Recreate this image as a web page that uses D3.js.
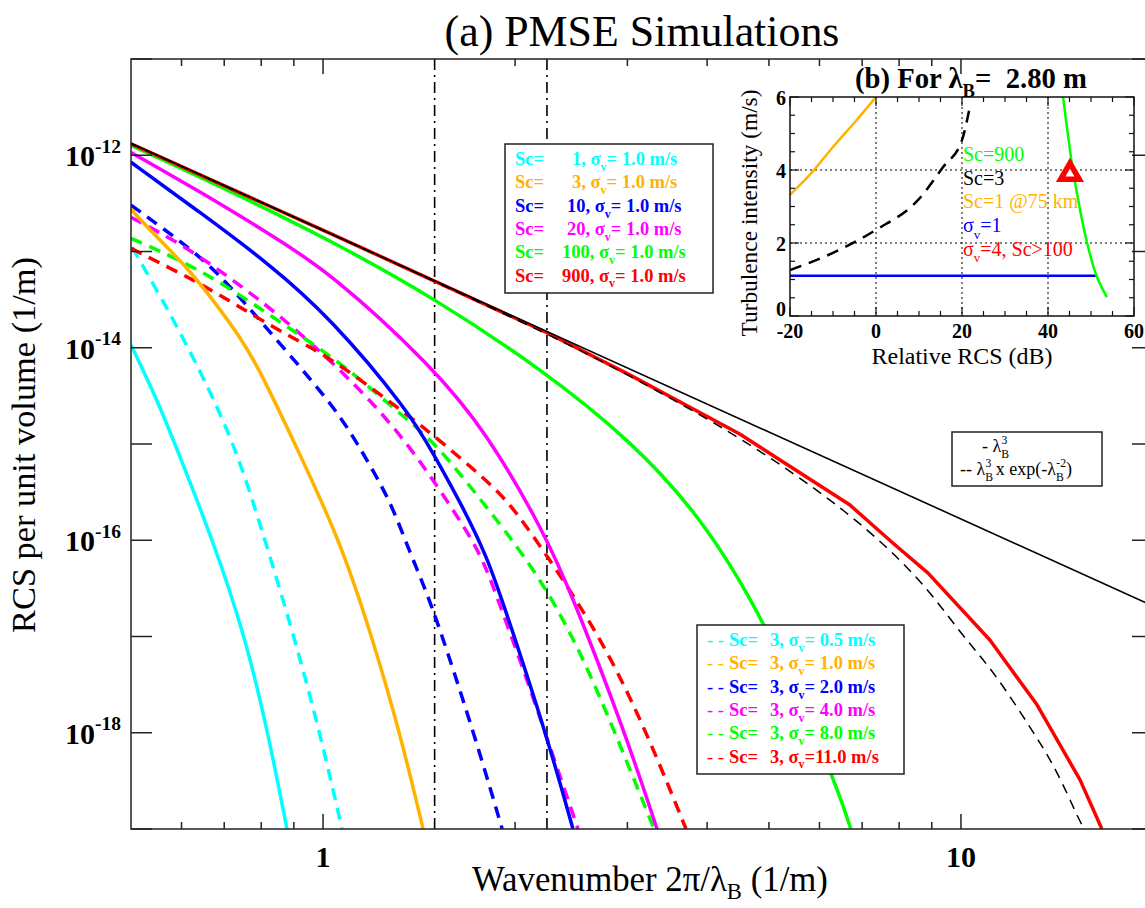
<!DOCTYPE html>
<head>
	<meta charset="utf-8">
	<title>PMSE Simulations</title>
	<script src="https://cdn.jsdelivr.net/npm/d3@7"></script>
	<style>
		body { margin: 0; background: #fff; }
		svg text { font-family: "Liberation Serif", "Times New Roman", serif; white-space: pre; }
	</style>
</head>

<body>
	<div id="chart"></div>

  <script>
	// wavenumber 2pi/lambda_B (1/m) vs RCS per unit volume (1/m)
	var sc1   = [[0.5,1.07e-14],[0.549,2.9e-15],[0.586,1.0e-15],[0.672,1.0e-16],[0.755,1.0e-17],[0.820,1.0e-18],[0.878,1.0e-19]];
	var sc3   = [[0.5,2.75e-13],[0.541,1.55e-13],[0.612,6.9e-14],[0.682,2.77e-14],[0.741,1.29e-14],[0.791,6.37e-15],[0.904,1.0e-15],[1.063,1.0e-16],[1.193,1.0e-17],[1.320,1.0e-18],[1.435,1.0e-19]];
	var sc10  = [[0.5,8.46e-13],[0.641,2.56e-13],[0.817,7.74e-14],[1.026,2.08e-14],[1.369,2.1e-15],[1.487,8.05e-16],[1.657,2.21e-16],[1.807,6.7e-17],[1.909,2.4e-17],[2.236,1.0e-18],[2.465,1.0e-19]];
	var sc20  = [[0.5,1.07e-12],[0.641,4.2e-13],[0.817,1.58e-13],[1.026,6.1e-14],[1.487,6.3e-15],[1.807,1.3e-15],[2.212,1.28e-16],[2.465,2.57e-17],[2.975,1.0e-18],[3.339,1.0e-19]];
	var sc100 = [[0.5,1.27e-12],[0.7,4.55e-13],[1.026,1.31e-13],[1.487,3.35e-14],[2.212,5.85e-15],[3.028,1.1e-15],[3.898,1.83e-16],[4.93,1.48e-17],[6.30,3.65e-19],[6.72,1.0e-19]];
	var sc900 = [[0.5,1.315e-12],[1.026,1.546e-13],[2.236,1.45e-14],[3.03,5.19e-15],[4.5,1.27e-15],[6.70,2.32e-16],[7.82,9.35e-17],[8.88,4.56e-17],[11.10,9.2e-18],[13.16,1.95e-18],[15.37,3.24e-19],[16.63,1.0e-19]];

	var sig05  = [[0.502,1.11e-13],[0.566,2.77e-14],[0.630,7.4e-15],[0.728,1.0e-15],[0.811,1.0e-16],[0.901,1.0e-17],[0.989,1.0e-18],[1.071,1.0e-19]];
	var sig20  = [[0.5,3.03e-13],[0.626,1.03e-13],[0.707,4.8e-14],[0.866,1.01e-14],[1.052,2.25e-15],[1.155,8.05e-16],[1.274,2.61e-16],[1.369,7.36e-17],[1.456,2.83e-17],[1.564,7.24e-18],[1.737,8.4e-19],[1.909,1.0e-19]];
	var sig40  = [[0.5,2.27e-13],[0.612,1.11e-13],[0.722,5.04e-14],[0.847,2.29e-14],[1.026,7.43e-15],[1.198,2.66e-15],[1.369,9.29e-16],[1.525,3.32e-16],[1.718,1.0e-16],[1.807,4.9e-17],[1.874,2.57e-17],[2.036,5.7e-18],[2.228,1.02e-18],[2.51,1.0e-19]];
	var sig80  = [[0.5,1.37e-13],[0.612,7.57e-14],[0.722,3.97e-14],[0.847,1.94e-14],[1.026,8.37e-15],[1.172,4.09e-15],[1.335,1.95e-15],[1.509,9.75e-16],[1.718,3.32e-16],[1.943,1.19e-16],[2.212,3.6e-17],[2.528,7.24e-18],[2.901,8.4e-19],[3.303,1.0e-19]];
	var sig110 = [[0.5,1.08e-13],[0.555,7.57e-14],[0.641,4.69e-14],[0.741,2.64e-14],[0.866,1.42e-14],[1.026,7.98e-15],[1.306,2.42e-15],[1.456,1.39e-15],[1.657,6.81e-16],[1.874,3.32e-16],[2.014,1.91e-16],[2.212,7.9e-17],[2.438,3.04e-17],[2.818,6.43e-18],[3.254,8.4e-19],[3.707,1.0e-19]];

	var lambda3    = [[0.5,1.33e-12],[20,2.08e-17]];
	var lambda3exp = [[0.5,1.315e-12],[1.026,1.546e-13],[2.236,1.44e-14],[3.03,5.1e-15],[4.5,1.21e-15],[6.70,1.96e-16],[8.69,3.86e-17],[9.96,1.09e-17],[11.22,4.49e-18],[12.92,1.07e-18],[14.14,4.11e-19],[15.37,1.16e-19],[15.64,1.0e-19]];

	var braggK = [1.496, 2.244];   // dash-dot verticals

	var scLabels    = ["1", "3", "10", "20", "100", "900"];
	var sigmaLabels = ["0.5", "1.0", "2.0", "4.0", "8.0", "11.0"];

	var xMajor = [1, 10];
	var xMinor = [0.6, 0.7, 0.8, 0.9, 2, 3, 4, 5, 6, 7, 8, 9, 20];
	var yDecades = [-19, -18, -17, -16, -15, -14, -13, -12, -11];
	var yLabelled = [-12, -14, -16, -18];

	// inset (b): relative RCS (dB) vs turbulence intensity (m/s)
	var inSc1    = [[-20,3.32],[-15,3.92],[-10,4.63],[-5,5.3],[0,6.0]];
	var inSc3    = [[-20,1.26],[-10,1.73],[0,2.36],[9.8,3.18],[15.6,4.08],[20,4.82],[21.9,5.78]];
	var inSigma1 = [[-20,1.1],[51.4,1.1]];
	var inSc900  = [[43.5,6],[44.6,5],[45.8,4],[49.1,2],[51.4,1.07],[53.7,0.52]];
	var inMarker = [45.1, 3.92];
	var inGridX = [0, 20, 40], inGridY = [2, 4];

	var colors = ["#00ffff", "#ffb300", "#0000ff", "#ff00ff", "#00ff00", "#ff0000"];

	var svg = d3.select("#chart").append("svg")
		.attr("width", 1145).attr("height", 908);

	var x = d3.scaleLog().domain([0.5, 20]).range([131, 1153]);
	var y = d3.scaleLog().domain([1e-19, 1e-11]).range([829, 59]);

	// append tspans; kind: sub, sup, or stack (sup right above the previous sub)
	function rich(t, parts, size, subShift) {
		var shift = 0, down = subShift || 0.32;
		parts.forEach(function (p) {
			var kind = p[1] || "n";
			var target = kind == "sub" ? down * size : (kind == "sup" || kind == "stack") ? -0.45 * size : 0;
			var s = t.append("tspan").text(p[0]).attr("dy", target - shift);
			if (kind != "n") s.attr("font-size", 0.65 * size);
			if (kind == "stack") s.attr("dx", -0.42 * size);
			shift = target;
		});
		return t;
	}
	// build once, measure, rebuild at the size that gives the wanted width
	function fitted(build, size, width) {
		var t = build(size);
		var len = t.node().getComputedTextLength();
		t.remove();
		return build(size * width / len);
	}

	svg.append("clipPath").attr("id", "clip").append("rect")
		.attr("x", 131).attr("y", 59).attr("width", 1022).attr("height", 770);

	var plot = svg.append("g").attr("clip-path", "url(#clip)");

	var smooth = d3.line().x(function (d) { return x(d[0]); }).y(function (d) { return y(d[1]); })
		.curve(d3.curveBasis);
	var straight = d3.line().x(function (d) { return x(d[0]); }).y(function (d) { return y(d[1]); });

	// Bragg dash-dot lines
	braggK.forEach(function (k) {
		plot.append("line").attr("x1", x(k)).attr("x2", x(k)).attr("y1", 59).attr("y2", 829)
			.attr("stroke", "#000").attr("stroke-width", 1.6).attr("stroke-dasharray", "11,5,2,5");
	});

	var dashed = [sig05, null, sig20, sig40, sig80, sig110];
	dashed.forEach(function (d, i) {
		if (!d) return;
		plot.append("path").attr("d", smooth(d)).attr("fill", "none")
			.attr("stroke", colors[i]).attr("stroke-width", 3.5).attr("stroke-dasharray", "12,8");
	});

	[sc1, sc3, sc10, sc20, sc100].forEach(function (d, i) {
		plot.append("path").attr("d", smooth(d)).attr("fill", "none")
			.attr("stroke", colors[i]).attr("stroke-width", 3.5);
	});
	plot.append("path").attr("d", straight(sc900)).attr("fill", "none")
		.attr("stroke", colors[5]).attr("stroke-width", 3.5).attr("stroke-linejoin", "round");

	plot.append("path").attr("d", smooth(lambda3exp)).attr("fill", "none")
		.attr("stroke", "#000").attr("stroke-width", 1.5).attr("stroke-dasharray", "10,7");
	plot.append("path").attr("d", straight(lambda3)).attr("fill", "none")
		.attr("stroke", "#000").attr("stroke-width", 1.6);

	// frame and ticks
	svg.append("rect").attr("x", 131).attr("y", 59).attr("width", 1022).attr("height", 770)
		.attr("fill", "none").attr("stroke", "#222").attr("stroke-width", 1.5);

	var ticks = svg.append("g").attr("stroke", "#222").attr("stroke-width", 1.5);
	xMajor.concat(xMinor).forEach(function (k) {
		var len = xMajor.indexOf(k) >= 0 ? 15 : 7;
		ticks.append("line").attr("x1", x(k)).attr("x2", x(k)).attr("y1", 829).attr("y2", 829 - len);
		ticks.append("line").attr("x1", x(k)).attr("x2", x(k)).attr("y1", 59).attr("y2", 59 + len);
	});
	yDecades.forEach(function (e) {
		var py = y(Math.pow(10, e));
		ticks.append("line").attr("x1", 131).attr("x2", 152).attr("y1", py).attr("y2", py);
		ticks.append("line").attr("x1", 1153).attr("x2", 1132).attr("y1", py).attr("y2", py);
	});

	xMajor.forEach(function (k) {
		svg.append("text").attr("x", x(k)).attr("y", 867).attr("text-anchor", "middle")
			.attr("font-size", 30).attr("font-weight", "bold").text(String(k));
	});
	yLabelled.forEach(function (e) {
		var t = svg.append("text").attr("x", 121).attr("y", y(Math.pow(10, e)) + 11)
			.attr("text-anchor", "end").attr("font-size", 30).attr("font-weight", "bold");
		rich(t, [["10"], [String(e), "sup"]], 30);
	});

	fitted(function (s) {
		return svg.append("text").attr("x", 642).attr("y", 46).attr("text-anchor", "middle")
			.attr("font-size", s).text("(a) PMSE Simulations");
	}, 36, 395);
	fitted(function (s) {
		return rich(svg.append("text").attr("x", 650).attr("y", 891).attr("text-anchor", "middle")
			.attr("font-size", s), [["Wavenumber 2π/λ"], ["B", "sub"], [" (1/m)"]], s, 0.22);
	}, 30, 356);
	fitted(function (s) {
		return svg.append("text").attr("transform", "translate(35,445) rotate(-90)").attr("text-anchor", "middle")
			.attr("font-size", s).text("RCS per unit volume (1/m)");
	}, 30, 376);

	// legend 1: Sc series
	svg.append("rect").attr("x", 505).attr("y", 144).attr("width", 208).attr("height", 149)
		.attr("fill", "#fff").attr("stroke", "#222").attr("stroke-width", 1.5);
	scLabels.forEach(function (s, i) {
		var by = 165 + i * 23.3;
		svg.append("text").attr("x", 515).attr("y", by).attr("font-size", 18.5).attr("font-weight", "bold")
			.attr("fill", colors[i]).text("Sc=");
		rich(svg.append("text").attr("x", 577 - 5 * s.length).attr("y", by).attr("font-size", 18.5)
			.attr("font-weight", "bold").attr("fill", colors[i]),
			[[s + ", σ"], ["v", "sub"], ["= 1.0 m/s"]], 18.5);
	});

	// legend 2: sigma series
	svg.append("rect").attr("x", 697).attr("y", 625).attr("width", 207).attr("height", 149)
		.attr("fill", "#fff").attr("stroke", "#222").attr("stroke-width", 1.5);
	sigmaLabels.forEach(function (s, i) {
		var by = 646 + i * 23.3;
		svg.append("text").attr("x", 707).attr("y", by).attr("font-size", 18.5)
			.attr("fill", colors[i]).text("- -");
		svg.append("text").attr("x", 729).attr("y", by).attr("font-size", 18.5).attr("font-weight", "bold")
			.attr("fill", colors[i]).text("Sc=");
		rich(svg.append("text").attr("x", 770).attr("y", by).attr("font-size", 18.5)
			.attr("font-weight", "bold").attr("fill", colors[i]),
			[["3, σ"], ["v", "sub"], ["=" + (s.length < 4 ? " " : "") + s + " m/s"]], 18.5);
	});

	// legend 3: reference curves
	svg.append("rect").attr("x", 952).attr("y", 432).attr("width", 150).attr("height", 54)
		.attr("fill", "#fff").attr("stroke", "#222").attr("stroke-width", 1.5);
	rich(svg.append("text").attr("x", 982).attr("y", 452).attr("font-size", 18),
		[["- λ"], ["B", "sub"], ["3", "stack"]], 18);
	rich(svg.append("text").attr("x", 960).attr("y", 475).attr("font-size", 18),
		[["-- λ"], ["B", "sub"], ["3", "stack"], [" x exp(-λ"], ["B", "sub"], ["-2", "stack"], [")"]], 18);

	// inset (b)
	var xi = d3.scaleLinear().domain([-20, 60]).range([790, 1134]);
	var yi = d3.scaleLinear().domain([0, 6]).range([316, 97]);
	var inset = svg.append("g");
	svg.append("clipPath").attr("id", "clipb").append("rect")
		.attr("x", 790).attr("y", 97).attr("width", 344).attr("height", 219);

	inGridX.forEach(function (v) {
		inset.append("line").attr("x1", xi(v)).attr("x2", xi(v)).attr("y1", 97).attr("y2", 316)
			.attr("stroke", "#000").attr("stroke-width", 1).attr("stroke-dasharray", "2,3");
	});
	inGridY.forEach(function (v) {
		inset.append("line").attr("x1", 790).attr("x2", 1134).attr("y1", yi(v)).attr("y2", yi(v))
			.attr("stroke", "#000").attr("stroke-width", 1).attr("stroke-dasharray", "2,3");
	});

	var il = d3.line().x(function (d) { return xi(d[0]); }).y(function (d) { return yi(d[1]); })
		.curve(d3.curveMonotoneX);
	var ic = inset.append("g").attr("clip-path", "url(#clipb)");
	ic.append("path").attr("d", il(inSc1)).attr("fill", "none").attr("stroke", colors[1]).attr("stroke-width", 2.5);
	ic.append("path").attr("d", il(inSc3)).attr("fill", "none").attr("stroke", "#000").attr("stroke-width", 2.5)
		.attr("stroke-dasharray", "12,8");
	ic.append("path").attr("d", il(inSigma1)).attr("fill", "none").attr("stroke", colors[2]).attr("stroke-width", 2.5);
	ic.append("path").attr("d", d3.line().x(function (d) { return xi(d[0]); }).y(function (d) { return yi(d[1]); })
		.curve(d3.curveCatmullRom)(inSc900)).attr("fill", "none").attr("stroke", colors[4]).attr("stroke-width", 2.5);
	inset.append("path").attr("d", d3.symbol(d3.symbolTriangle, 150)())
		.attr("transform", "translate(" + xi(inMarker[0]) + "," + (yi(inMarker[1]) + 1) + ")")
		.attr("fill", "#fff").attr("stroke", "#ff0000").attr("stroke-width", 5.5).attr("stroke-linejoin", "miter");

	inset.append("rect").attr("x", 790).attr("y", 97).attr("width", 344).attr("height", 219)
		.attr("fill", "none").attr("stroke", "#111").attr("stroke-width", 1.5);
	var it = inset.append("g").attr("stroke", "#111").attr("stroke-width", 1.2);
	d3.range(-20, 61, 5).forEach(function (v) {
		var len = v % 20 == 0 ? 9 : 5;
		it.append("line").attr("x1", xi(v)).attr("x2", xi(v)).attr("y1", 316).attr("y2", 316 - len);
		it.append("line").attr("x1", xi(v)).attr("x2", xi(v)).attr("y1", 97).attr("y2", 97 + len);
	});
	d3.range(0, 6.01, 0.5).forEach(function (v) {
		var len = v % 2 == 0 ? 9 : 5;
		it.append("line").attr("x1", 790).attr("x2", 790 + len).attr("y1", yi(v)).attr("y2", yi(v));
		it.append("line").attr("x1", 1134).attr("x2", 1134 - len).attr("y1", yi(v)).attr("y2", yi(v));
	});
	d3.range(-20, 61, 20).forEach(function (v) {
		inset.append("text").attr("x", xi(v)).attr("y", 338).attr("text-anchor", "middle")
			.attr("font-size", 20).attr("font-weight", "bold").text(String(v));
	});
	d3.range(0, 7, 2).forEach(function (v) {
		inset.append("text").attr("x", 786).attr("y", Math.min(yi(v) + 8, 316))
			.attr("text-anchor", "end").attr("font-size", 20).attr("font-weight", "bold").text(String(v));
	});
	fitted(function (s) {
		return rich(inset.append("text").attr("x", 971).attr("y", 88).attr("text-anchor", "middle")
			.attr("font-size", s).attr("font-weight", "bold"),
			[["(b) For λ"], ["B", "sub"], ["=  2.80 m"]], s);
	}, 24, 232);
	fitted(function (s) {
		return inset.append("text").attr("x", 962).attr("y", 364).attr("text-anchor", "middle")
			.attr("font-size", s).text("Relative RCS (dB)");
	}, 20, 181);
	fitted(function (s) {
		return inset.append("text").attr("transform", "translate(757,213) rotate(-90)").attr("text-anchor", "middle")
			.attr("font-size", s).text("Turbulence intensity (m/s)");
	}, 20, 247);

	var notes = [
		{parts: [["Sc=900"]], c: colors[4]},
		{parts: [["Sc=3"]], c: "#000"},
		{parts: [["Sc=1 @75 km"]], c: colors[1]},
		{parts: [["σ"], ["v", "sub"], ["=1"]], c: colors[2]},
		{parts: [["σ"], ["v", "sub"], ["=4, Sc>100"]], c: colors[5]}
	];
	notes.forEach(function (n, i) {
		rich(inset.append("text").attr("x", 963).attr("y", 161 + i * 23.7).attr("font-size", 20)
			.attr("fill", n.c), n.parts, 20);
	});
	</script>
</body>
</html>
